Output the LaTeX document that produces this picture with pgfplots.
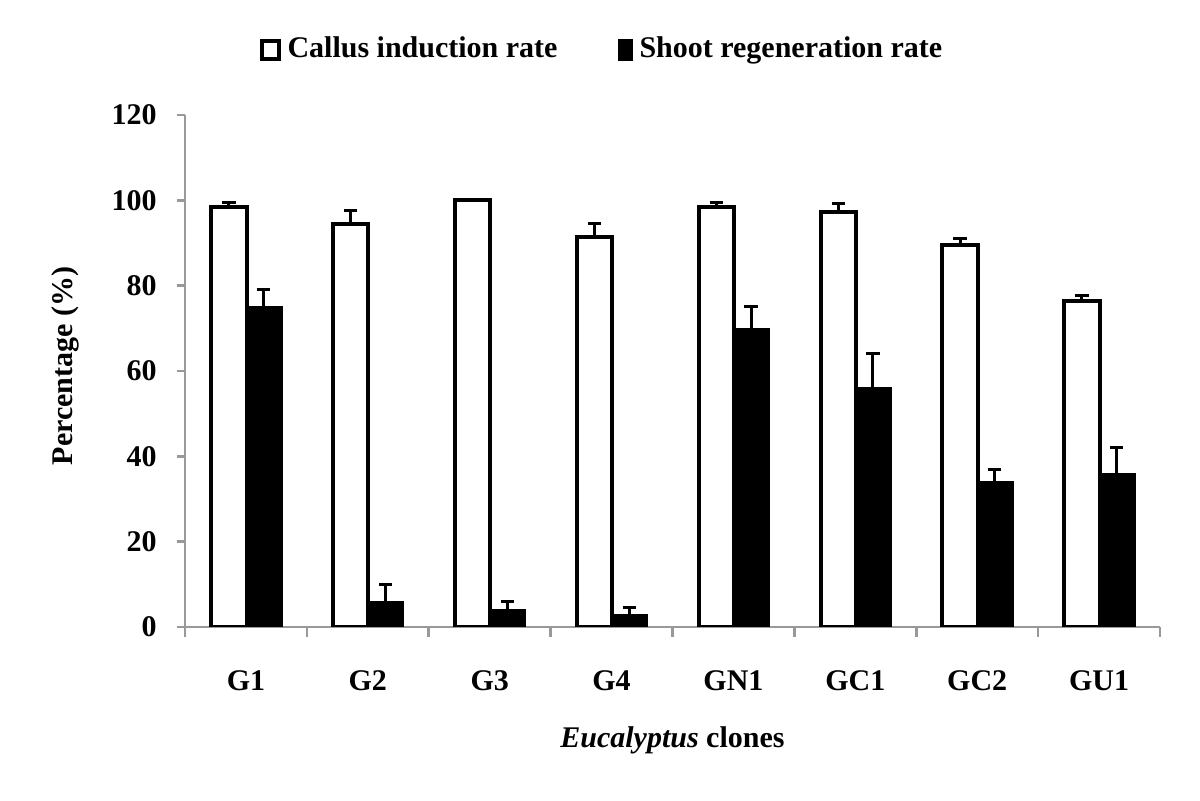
\documentclass[border=0pt]{standalone}
\usepackage{fontspec}
\setmainfont{Liberation Serif}
\usepackage{pgfplots}
\usepackage{pgfplotstable}
\pgfplotsset{compat=1.18}
\pgfplotstableread{
x c ce s se
0 98.5 1.0 75 4
1 94.5 3.0 6 4
2 100 0 4 2
3 91.5 3.0 3 1.5
4 98.5 1.0 70 5
5 97.3 2.0 56 8
6 89.5 1.5 34 3
7 76.5 1.3 36 6
}\data
\begin{document}
\begin{tikzpicture}
\useasboundingbox (-55.5pt,-52.2pt) rectangle (304.5pt,188.1pt);
\begin{axis}[
  scale only axis,
  width=292.5pt, height=153.6pt,
  xmin=-0.5, xmax=7.5, ymin=0, ymax=120,
  axis x line*=bottom, axis y line*=left,
  axis line style={-, draw=black!40, line width=0.8pt},
  xtick={0,...,7},
  xticklabels={G1,G2,G3,G4,GN1,GC1,GC2,GU1},
  minor xtick={-0.5,0.5,...,7.5},
  ytick={0,20,...,120},
  tick align=outside,
  major tick length=2.5pt, minor tick length=3pt,
  major x tick style={draw=none},
  every tick/.style={draw=black!40, line width=0.8pt},
  /pgf/number format/assume math mode=true,
  ticklabel style={font=\fontsize{9}{10}\selectfont\bfseries},
  xticklabel style={yshift=-7pt},
  yticklabel style={xshift=-2.5pt},
  xlabel={\textit{Eucalyptus} clones},
  ylabel={Percentage (\%)},
  label style={font=\fontsize{9}{10}\selectfont\bfseries},
  xlabel style={at={(axis description cs:0.5,-0.221)}, anchor=center},
  ylabel style={at={(axis description cs:-0.123,0.51)}, anchor=center},
  legend style={draw=none, at={(0.43,1.127)}, anchor=center,
    font=\fontsize{9}{10}\selectfont\bfseries,
    legend columns=2,
    /tikz/every even column/.append style={column sep=16pt},
    inner sep=0pt},
]
\addplot[ybar, bar width=0.29, bar shift=0pt, draw=black, fill=white, line width=1.2pt,
  legend image code/.code={\draw[black, fill=white, line width=1.2pt] (0pt,-2.6pt) rectangle (5.2pt,2.6pt);},
  error bars/.cd, y dir=plus, y explicit,
  error bar style={line width=0.9pt, black},
  error mark options={rotate=90, mark size=2pt, line width=0.9pt, black}]
  table[x expr=\thisrow{x}-0.14, y=c, y error=ce] {\data};
\addlegendentry{Callus induction rate}
\addplot[ybar, bar width=0.3, bar shift=0pt, draw=black, fill=black, line width=0.4pt,
  legend image code/.code={\fill[black] (0pt,-3pt) rectangle (4.2pt,3pt);},
  error bars/.cd, y dir=plus, y explicit,
  error bar style={line width=0.9pt, black},
  error mark options={rotate=90, mark size=2pt, line width=0.9pt, black}]
  table[x expr=\thisrow{x}+0.145, y=s, y error=se] {\data};
\addlegendentry{Shoot regeneration rate}
\end{axis}
\end{tikzpicture}
\end{document}
